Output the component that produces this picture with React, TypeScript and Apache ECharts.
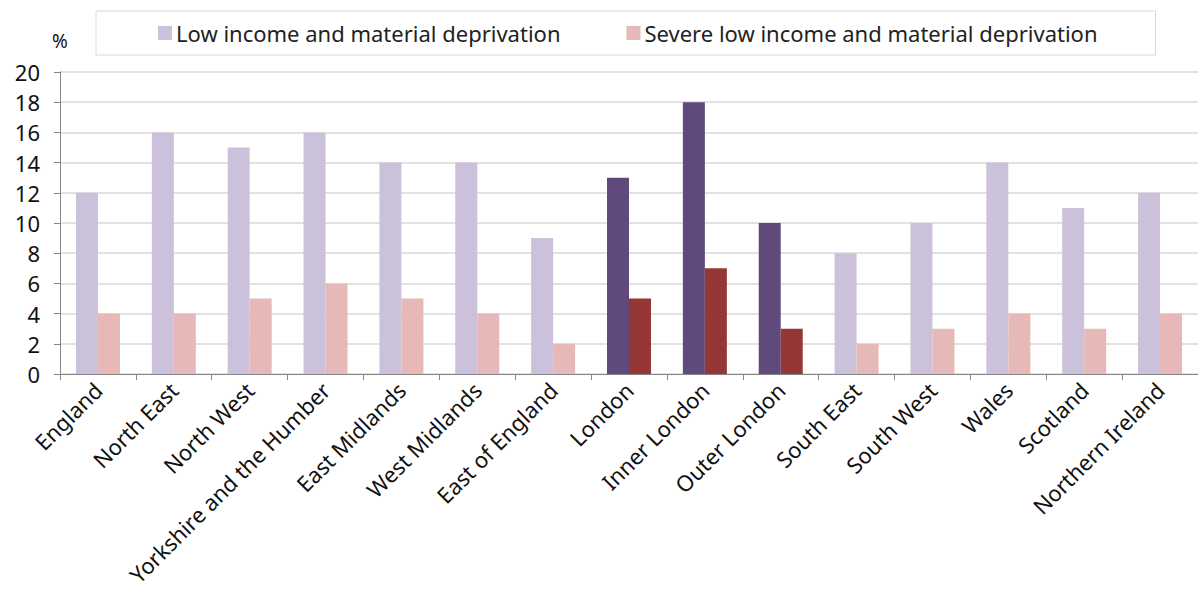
import React, { useEffect, useRef } from "react";
import * as echarts from "echarts";

const regions = [
  "England",
  "North East",
  "North West",
  "Yorkshire and the Humber",
  "East Midlands",
  "West Midlands",
  "East of England",
  "London",
  "Inner London",
  "Outer London",
  "South East",
  "South West",
  "Wales",
  "Scotland",
  "Northern Ireland",
];

const lowIncome = [12, 16, 15, 16, 14, 14, 9, 13, 18, 10, 8, 10, 14, 11, 12];
const severeLowIncome = [4, 4, 5, 6, 5, 4, 2, 5, 7, 3, 2, 3, 4, 3, 4];

// London and its sub-regions are drawn in darker shades
const highlighted = ["London", "Inner London", "Outer London"];

const LOW_COLOR = "#CCC1DA";
const SEVERE_COLOR = "#E6B9B8";
const LOW_DARK = "#604A7B";
const SEVERE_DARK = "#953735";

const FONT = "'Noto Sans', 'Open Sans', sans-serif";

export default function App() {
  const ref = useRef<HTMLDivElement>(null);

  useEffect(() => {
    if (!ref.current) return;
    const chart = echarts.init(ref.current, undefined, { renderer: "svg" });

    const toItems = (values: number[], dark: string) =>
      values.map((v, i) =>
        highlighted.includes(regions[i])
          ? { value: v, itemStyle: { color: dark } }
          : v
      );

    chart.setOption({
      animation: false,
      backgroundColor: "#ffffff",
      textStyle: { fontFamily: FONT },
      legend: {
        left: 96,
        top: 11,
        padding: [11, 58, 11, 62],
        itemGap: 66,
        itemWidth: 14,
        itemHeight: 14,
        icon: "rect",
        borderColor: "#D9D9D9",
        borderWidth: 1,
        textStyle: { fontSize: 22, color: "#222", fontFamily: FONT, padding: [2, 0, 0, -1] },
        data: [
          "Low income and material deprivation",
          "Severe low income and material deprivation",
        ],
      },
      grid: { left: 60, right: 0, top: 72, bottom: 222 },
      xAxis: {
        type: "category",
        data: regions,
        axisLine: { lineStyle: { color: "#868686", width: 1 } },
        axisTick: { show: true, length: 6, lineStyle: { color: "#868686" } },
        axisLabel: {
          rotate: 45,
          interval: 0,
          margin: 12,
          fontSize: 22,
          color: "#111",
          fontFamily: FONT,
        },
      },
      yAxis: {
        type: "value",
        min: 0,
        max: 20,
        interval: 2,
        name: "%",
        nameLocation: "end",
        nameGap: 22,
        nameTextStyle: {
          fontSize: 19,
          color: "#111",
          fontFamily: FONT,
          align: "center",
        },
        axisLine: { show: true, lineStyle: { color: "#868686" } },
        axisTick: { show: true, length: 6, lineStyle: { color: "#868686" } },
        axisLabel: { fontSize: 22, color: "#111", margin: 20, fontFamily: FONT },
        splitLine: { lineStyle: { color: "#D9D9D9", width: 1.5 } },
      },
      series: [
        {
          name: "Low income and material deprivation",
          type: "bar",
          data: toItems(lowIncome, LOW_DARK),
          itemStyle: { color: LOW_COLOR },
          barGap: "0%",
          barCategoryGap: "42%",
        },
        {
          name: "Severe low income and material deprivation",
          type: "bar",
          data: toItems(severeLowIncome, SEVERE_DARK),
          itemStyle: { color: SEVERE_COLOR },
          barGap: "0%",
          barCategoryGap: "42%",
        },
      ],
    });

    return () => chart.dispose();
  }, []);

  return (
    <div
      ref={ref}
      style={{ position: "fixed", left: 0, top: 0, width: 1198, height: 596 }}
    />
  );
}
